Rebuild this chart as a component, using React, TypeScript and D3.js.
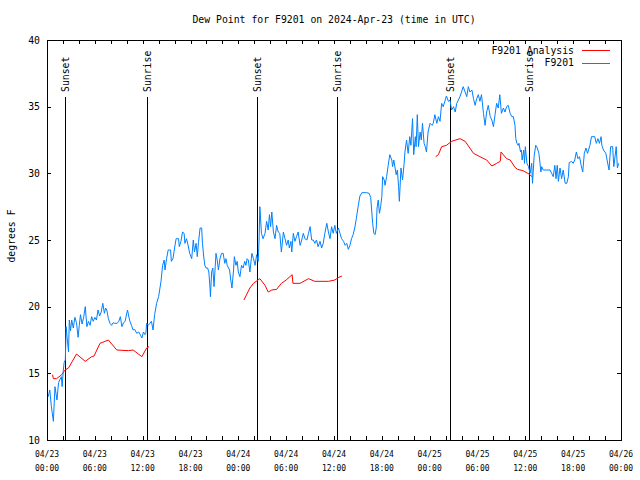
import React from "react";
import * as d3 from "d3";

// ---- data (hours since 2024-04-23 00:00 UTC, value in °F) ----
const f9201Data: [number, number][] = [
  [0.16, 13.25], [0.35, 13.75], [0.55, 12.5], [0.8, 11.4], [1.0, 14.0], [1.25, 13.0], [1.45, 14.3], [1.6, 14.5],
  [1.8, 14.75], [1.9, 14.0], [2.05, 15.25], [2.15, 15.8], [2.3, 16.0], [2.4, 18.5], [2.55, 17.5], [2.7, 16.6],
  [2.8, 19.0], [2.95, 18.2], [3.1, 19.0], [3.3, 18.4], [3.5, 19.2], [3.7, 18.8], [3.9, 17.7], [4.05, 18.6],
  [4.2, 19.4], [4.4, 18.7], [4.6, 19.2], [4.8, 20.0], [5.0, 18.5], [5.2, 18.9], [5.4, 18.6], [5.6, 19.25],
  [5.8, 18.9], [6.0, 19.2], [6.2, 19.0], [6.4, 19.75], [6.6, 19.3], [6.8, 19.6], [7.0, 20.25], [7.2, 19.5],
  [7.35, 19.9], [7.5, 19.75], [7.7, 19.1], [7.9, 18.75], [8.1, 18.6], [8.3, 18.8], [8.5, 18.75], [8.8, 18.75],
  [9.0, 18.9], [9.2, 19.25], [9.4, 18.5], [9.6, 18.8], [9.8, 18.9], [10.0, 19.5], [10.1, 19.75], [10.25, 19.3],
  [10.4, 18.9], [10.6, 18.6], [10.8, 18.25], [11.0, 18.3], [11.25, 18.0], [11.5, 18.1], [11.7, 17.9], [11.9, 17.65],
  [12.1, 18.1], [12.3, 17.9], [12.4, 18.0], [12.5, 18.75], [12.7, 18.6], [12.9, 18.75], [13.1, 18.9], [13.3, 18.25],
  [13.5, 19.4], [13.75, 20.25], [14.0, 20.75], [14.3, 21.9], [14.5, 23.1], [14.7, 23.5], [14.8, 22.75], [15.0, 23.6],
  [15.2, 24.25], [15.5, 24.25], [15.6, 23.4], [15.8, 23.6], [16.0, 24.4], [16.2, 25.1], [16.5, 25.1], [16.6, 24.5],
  [16.8, 24.9], [17.0, 25.6], [17.2, 25.5], [17.3, 24.75], [17.5, 25.1], [17.7, 24.6], [17.9, 24.0], [18.15, 23.6],
  [18.35, 25.0], [18.5, 24.1], [18.7, 24.75], [18.85, 23.75], [19.0, 24.8], [19.2, 25.9], [19.4, 25.9], [19.5, 24.75],
  [19.65, 23.8], [19.8, 23.1], [19.95, 22.9], [20.15, 22.9], [20.3, 22.6], [20.45, 21.4], [20.5, 20.75], [20.65, 22.6],
  [20.8, 22.9], [20.95, 21.5], [21.1, 23.0], [21.2, 24.0], [21.35, 23.5], [21.5, 22.75], [21.7, 23.6], [21.9, 24.0],
  [22.1, 24.0], [22.3, 23.25], [22.45, 23.6], [22.6, 23.1], [22.9, 22.75], [23.05, 22.0], [23.2, 21.4], [23.4, 22.75],
  [23.5, 23.75], [23.7, 23.1], [23.85, 23.4], [24.0, 22.6], [24.2, 22.25], [24.4, 23.1], [24.6, 22.9], [24.8, 23.4],
  [24.95, 23.1], [25.1, 23.6], [25.25, 23.5], [25.45, 22.6], [25.7, 24.0], [25.9, 23.6], [26.1, 23.1], [26.3, 23.9],
  [26.5, 23.4], [26.6, 25.0], [26.7, 27.5], [26.9, 25.5], [27.1, 25.1], [27.35, 25.5], [27.55, 26.4], [27.75, 25.75],
  [27.9, 26.9], [28.05, 26.0], [28.2, 27.1], [28.4, 25.6], [28.6, 25.1], [28.8, 26.1], [29.0, 25.6], [29.2, 25.5],
  [29.4, 24.1], [29.65, 25.6], [29.85, 25.1], [30.05, 24.6], [30.25, 25.0], [30.4, 24.4], [30.6, 24.9], [30.7, 24.1],
  [30.9, 25.5], [31.1, 24.9], [31.3, 25.25], [31.5, 25.6], [31.75, 24.6], [31.95, 25.0], [32.15, 25.5], [32.35, 25.1],
  [32.6, 25.0], [32.8, 25.5], [33.0, 26.0], [33.2, 25.0], [33.4, 25.0], [33.6, 24.75], [33.8, 25.0], [34.0, 24.5],
  [34.25, 24.9], [34.45, 24.4], [34.65, 24.75], [34.85, 25.5], [35.1, 26.25], [35.3, 25.6], [35.5, 25.1], [35.7, 26.0],
  [35.9, 25.5], [36.1, 26.1], [36.3, 25.5], [36.55, 25.9], [36.75, 25.5], [36.95, 25.1], [37.2, 24.9], [37.4, 24.6],
  [37.6, 24.75], [37.8, 24.3], [38.0, 24.6], [38.2, 25.1], [38.4, 25.4], [38.6, 25.9], [38.8, 26.6], [39.05, 27.6],
  [39.25, 28.3], [39.5, 28.55], [40.1, 28.55], [40.4, 28.5], [40.6, 28.2], [40.85, 26.25], [41.0, 25.5], [41.15, 25.4],
  [41.3, 25.9], [41.4, 27.4], [41.55, 28.0], [41.7, 27.0], [41.85, 27.5], [42.0, 28.25], [42.1, 29.75], [42.3, 29.5],
  [42.4, 29.1], [42.6, 29.75], [42.8, 30.6], [43.0, 31.4], [43.25, 31.0], [43.35, 30.5], [43.5, 31.0], [43.8, 29.9],
  [43.95, 30.25], [44.1, 29.0], [44.2, 27.9], [44.4, 30.4], [44.6, 29.5], [44.8, 30.75], [44.9, 31.6], [45.1, 32.5],
  [45.3, 31.5], [45.5, 32.75], [45.65, 32.1], [45.85, 34.1], [46.0, 31.4], [46.2, 32.75], [46.3, 32.0], [46.45, 34.4],
  [46.6, 32.0], [46.8, 33.1], [46.95, 32.5], [47.1, 33.75], [47.3, 32.25], [47.45, 32.0], [47.6, 31.6], [47.8, 33.1],
  [48.05, 33.75], [48.3, 33.6], [48.45, 33.75], [48.65, 34.4], [48.9, 33.75], [49.1, 34.25], [49.3, 33.9], [49.5, 35.25],
  [49.7, 35.0], [49.9, 35.4], [50.1, 35.8], [50.35, 35.4], [50.55, 35.5], [50.75, 34.75], [51.0, 35.0], [51.2, 34.6],
  [51.4, 35.25], [51.6, 35.5], [51.8, 35.75], [52.0, 36.1], [52.2, 36.5], [52.45, 36.1], [52.65, 35.75], [52.85, 36.5],
  [53.05, 36.1], [53.3, 36.25], [53.5, 35.6], [53.7, 35.1], [53.9, 35.6], [54.1, 35.9], [54.3, 35.4], [54.5, 35.9],
  [54.75, 34.5], [54.95, 33.6], [55.15, 34.6], [55.35, 35.1], [55.6, 34.25], [55.8, 34.0], [56.0, 33.5], [56.2, 34.4],
  [56.4, 35.25], [56.6, 34.9], [56.8, 35.9], [57.0, 34.5], [57.25, 34.9], [57.45, 34.6], [57.65, 35.0], [57.85, 35.1],
  [58.1, 34.5], [58.3, 34.25], [58.5, 34.25], [58.7, 33.6], [58.8, 32.6], [58.95, 32.25], [59.1, 32.1], [59.2, 32.25],
  [59.4, 31.6], [59.5, 31.75], [59.6, 31.0], [59.8, 31.75], [59.9, 30.75], [60.0, 32.0], [60.2, 30.75], [60.4, 30.5],
  [60.6, 30.0], [60.8, 30.75], [60.9, 29.25], [61.1, 31.25], [61.3, 32.1], [61.5, 31.9], [61.7, 31.5], [61.8, 31.0],
  [61.95, 30.1], [62.05, 30.5], [62.25, 30.25], [62.7, 30.25], [63.1, 30.25], [63.3, 30.0], [63.5, 29.75], [63.7, 30.6],
  [63.85, 29.6], [64.0, 30.6], [64.15, 29.4], [64.35, 30.4], [64.55, 29.6], [64.75, 30.25], [65.0, 29.25], [65.2, 29.25],
  [65.4, 29.75], [65.5, 30.8], [65.8, 30.9], [66.0, 30.75], [66.2, 31.0], [66.4, 31.6], [66.6, 31.1], [66.8, 31.25],
  [67.0, 30.6], [67.2, 30.1], [67.4, 31.5], [67.6, 31.9], [67.8, 31.5], [68.1, 32.1], [68.3, 32.75], [68.7, 32.75],
  [68.9, 32.25], [69.1, 32.6], [69.3, 32.25], [69.5, 32.75], [69.6, 32.1], [69.8, 31.75], [70.1, 31.5], [70.25, 31.0],
  [70.5, 30.25], [70.7, 32.0], [70.95, 32.0], [71.1, 30.5], [71.4, 32.0], [71.55, 30.4], [71.7, 30.75],
];

const analysisData: [number, number | null][] = [
  [0.7, 14.9], [0.8, 14.6], [1.2, 14.6], [1.85, 14.9], [2.26, 15.25], [2.7, 15.4], [3.7, 16.45], [4.8, 15.9],
  [5.6, 16.25], [5.9, 16.3], [6.65, 17.25], [7.7, 17.5], [8.75, 16.75], [10.2, 16.7], [10.8, 16.75], [11.9, 16.25],
  [12.5, 16.9], [12.8, 17.0],
  [18.0, null],
  [24.7, 20.5], [25.45, 21.4], [25.9, 21.75], [26.7, 22.1], [27.35, 21.6], [27.75, 21.1], [28.2, 21.25], [28.8, 21.3],
  [29.4, 21.75], [30.0, 22.0], [30.75, 22.4], [30.85, 21.75], [31.75, 21.75], [32.8, 22.1], [33.6, 21.9], [35.3, 21.9],
  [36.1, 22.0], [36.6, 22.2], [37.0, 22.3],
  [42.0, null],
  [48.75, 31.25], [49.1, 31.4], [49.5, 32.0], [50.1, 32.1], [50.75, 32.4], [51.8, 32.6], [52.45, 32.4], [53.5, 31.5],
  [54.3, 31.25], [55.15, 31.0], [55.8, 30.55], [56.4, 30.75], [56.85, 30.9], [56.95, 31.6], [57.65, 31.1], [58.1, 31.0],
  [58.7, 30.45], [59.0, 30.3], [59.7, 30.2], [60.3, 30.0], [60.6, 29.9], [60.8, 29.75],
];

const sunEventHours = [2.3, 12.5, 26.3, 36.4, 50.5, 60.4];
const sunEventLabels = ["Sunset", "Sunrise", "Sunset", "Sunrise", "Sunset", "Sunrise"];
const yTickValues = [10, 15, 20, 25, 30, 35, 40];
const titleText = "Dew Point for F9201 on 2024-Apr-23 (time in UTC)";
const yLabelText = "degrees F";
const seriesNames = ["F9201 Analysis", "F9201"];
const seriesColors = ["#ff0000", "#0080ff"];

const START = Date.UTC(2024, 3, 23, 0, 0, 0);
const toDate = (h: number) => new Date(START + h * 3600 * 1000);

const W = 640, H = 480;
const M = { left: 47, right: 621, top: 40, bottom: 440 };
const FONT = "'DejaVu Sans Mono', monospace";

export default function App() {
  const x = d3.scaleUtc().domain([toDate(0), toDate(72)]).range([M.left, M.right]);
  const y = d3.scaleLinear().domain([10, 40]).range([M.bottom, M.top]);

  const blueLine = d3
    .line<[number, number]>()
    .x((d) => x(toDate(d[0])))
    .y((d) => y(d[1]));
  const redLine = d3
    .line<[number, number | null]>()
    .defined((d) => d[1] !== null)
    .x((d) => x(toDate(d[0])))
    .y((d) => y(d[1] as number));

  const minorTicks = d3.utcHour.every(2)!.range(toDate(0), toDate(72.01));
  const majorTicks = d3.utcHour.every(6)!.range(toDate(0), toDate(72.01));
  const fmtDate = d3.utcFormat("%m/%d");
  const fmtTime = d3.utcFormat("%H:%M");
  const tl = 4;

  return (
    <svg
      width={W}
      height={H}
      style={{ position: "absolute", left: 0, top: 0, background: "#fff" }}
      fontFamily={FONT}
    >
      <rect x={0} y={0} width={W} height={H} fill="#fff" />
      <text x={(M.left + M.right) / 2} y={23} textAnchor="middle" fontSize={9.8} fill="#000">
        {titleText}
      </text>

      {/* ticks */}
      <g stroke="#000" strokeWidth={1} shapeRendering="crispEdges">
        {minorTicks.map((t, i) => {
          const px = Math.round(x(t)) + 0.5;
          return (
            <g key={"xt" + i}>
              <line x1={px} x2={px} y1={M.bottom} y2={M.bottom - tl} />
              <line x1={px} x2={px} y1={M.top} y2={M.top + tl} />
            </g>
          );
        })}
        {yTickValues.map((v, i) => {
          const py = Math.round(y(v)) + 0.5;
          return (
            <g key={"yt" + i}>
              <line x1={M.left} x2={M.left + tl} y1={py} y2={py} />
              <line x1={M.right} x2={M.right - tl} y1={py} y2={py} />
            </g>
          );
        })}
      </g>

      {/* y tick labels */}
      {yTickValues.map((v, i) => (
        <text key={"yl" + i} x={40} y={y(v) + 3.5} textAnchor="end" fontSize={9.8} fill="#000">
          {v}
        </text>
      ))}

      {/* x tick labels */}
      {majorTicks.map((t, i) => (
        <g key={"xl" + i}>
          <text x={x(t)} y={457} textAnchor="middle" fontSize={8} fill="#000">
            {fmtDate(t)}
          </text>
          <text x={x(t)} y={471} textAnchor="middle" fontSize={8} fill="#000">
            {fmtTime(t)}
          </text>
        </g>
      ))}

      {/* y label */}
      <text
        transform={`translate(14.5,236) rotate(-90)`}
        textAnchor="middle"
        fontSize={9.8}
        fill="#000"
      >
        {yLabelText}
      </text>

      {/* sunrise/sunset markers */}
      {sunEventHours.map((h, i) => {
        const px = Math.round(x(toDate(h))) + 0.5;
        return (
          <g key={"sun" + i}>
            <line x1={px} x2={px} y1={97} y2={M.bottom} stroke="#000" strokeWidth={1} shapeRendering="crispEdges" />
            <text transform={`translate(${px + 3.5},92) rotate(-90)`} textAnchor="start" fontSize={9.8} fill="#000">
              {sunEventLabels[i]}
            </text>
          </g>
        );
      })}

      {/* series */}
      <path d={redLine(analysisData) || ""} fill="none" stroke={seriesColors[0]} strokeWidth={1} />
      <path d={blueLine(f9201Data) || ""} fill="none" stroke={seriesColors[1]} strokeWidth={1} />

      {/* border */}
      <rect
        x={M.left + 0.5}
        y={M.top + 0.5}
        width={M.right - M.left}
        height={M.bottom - M.top}
        fill="none"
        stroke="#000"
        strokeWidth={1}
        shapeRendering="crispEdges"
      />

      {/* legend */}
      {seriesNames.map((n, i) => (
        <g key={"lg" + i}>
          <text x={574} y={53.5 + i * 12.7} textAnchor="end" fontSize={9.8} fill="#000">
            {n}
          </text>
          <line
            x1={582}
            x2={610}
            y1={50.5 + i * 12.7}
            y2={50.5 + i * 12.7}
            stroke={seriesColors[i]}
            strokeWidth={1}
            shapeRendering="crispEdges"
          />
        </g>
      ))}
    </svg>
  );
}
